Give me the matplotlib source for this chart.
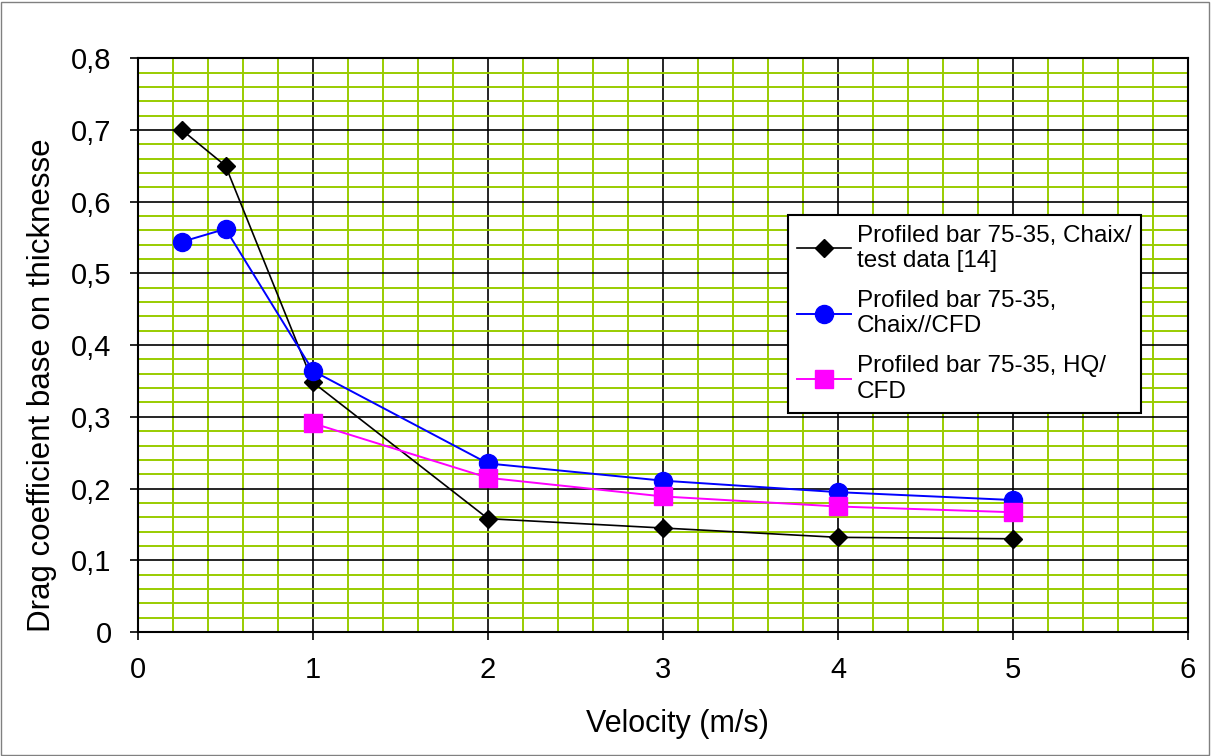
import matplotlib
matplotlib.use("Agg")
import matplotlib.pyplot as plt
from matplotlib.ticker import MultipleLocator, FuncFormatter
from matplotlib.patches import Rectangle

plt.rcParams['font.family'] = ['Liberation Sans', 'DejaVu Sans']

# data
velocity = [0.25, 0.5, 1, 2, 3, 4, 5]
chaix_test = [0.700, 0.650, 0.348, 0.158, 0.145, 0.132, 0.130]
chaix_cfd = [0.544, 0.562, 0.364, 0.235, 0.211, 0.195, 0.184]
hq_velocity = [1, 2, 3, 4, 5]
hq_cfd = [0.291, 0.215, 0.189, 0.175, 0.167]

labels = ["Profiled bar 75-35, Chaix/\ntest data [14]",
          "Profiled bar 75-35,\nChaix//CFD",
          "Profiled bar 75-35, HQ/\nCFD"]

fig = plt.figure(figsize=(12.11, 7.56), dpi=100)
ax = fig.add_axes([0.114, 0.164, 0.867, 0.759])

ax.plot(velocity, chaix_test, color="black", lw=1.2, marker="D", ms=9.5,
        label=labels[0], zorder=3)
ax.plot(velocity, chaix_cfd, color="#0000ff", lw=1.4, marker="o", ms=13,
        label=labels[1], zorder=4)
ax.plot(hq_velocity, hq_cfd, color="#ff00ff", lw=1.4, marker="s", ms=13.5,
        label=labels[2], zorder=5)

ax.set_xlim(0, 6)
ax.set_ylim(0, 0.8)
ax.xaxis.set_major_locator(MultipleLocator(1))
ax.xaxis.set_minor_locator(MultipleLocator(0.2))
ax.yaxis.set_major_locator(MultipleLocator(0.1))
ax.yaxis.set_minor_locator(MultipleLocator(0.02))

def comma(v, pos):
    if abs(v) < 1e-9:
        return "0"
    return ("%.1f" % v).replace(".", ",")

ax.yaxis.set_major_formatter(FuncFormatter(comma))
ax.xaxis.set_major_formatter(FuncFormatter(lambda v, p: "%d" % round(v)))

ax.set_axisbelow(True)
ax.grid(which="minor", color="#99cc00", lw=1.4)
ax.grid(which="major", color="black", lw=1.2)
ax.tick_params(which="major", direction="out", length=6, width=1.2,
               labelsize=21, colors="black")
ax.tick_params(axis="y", pad=13)
ax.tick_params(axis="x", pad=11)
ax.tick_params(which="minor", length=0)
for s in ax.spines.values():
    s.set_linewidth(1.5)
    s.set_color("black")

ax.set_xlabel("Velocity (m/s)", fontsize=22)
ax.xaxis.set_label_coords(0.514, -0.134)
ax.set_ylabel("Drag coefficient base on thicknesse", fontsize=22.5)
ax.yaxis.set_label_coords(-0.077, 0.43)

leg = ax.legend(loc="upper left", bbox_to_anchor=(0.607, 0.748),
                fontsize=17.5, frameon=True, fancybox=False, edgecolor="black",
                framealpha=1, borderpad=0.4, labelspacing=0.74,
                handlelength=2.2, handletextpad=0.25)
leg.get_frame().set_linewidth(1.5)

fig.patches.append(Rectangle((0.001, 0.001), 0.997, 0.997, transform=fig.transFigure,
                             fill=False, edgecolor="#808080", lw=1))

fig.savefig("out.png", dpi=100)
